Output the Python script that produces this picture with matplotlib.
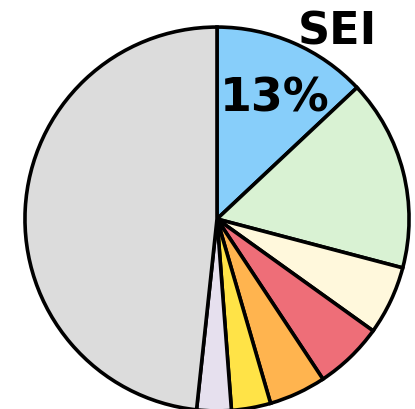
import matplotlib
matplotlib.use("Agg")
import matplotlib.pyplot as plt

# slice shares in percent, clockwise from 12 o'clock
labels = ['SEI', 'B', 'C', 'D', 'E', 'F', 'G', 'H']
shares = [13.0, 16.1, 5.8, 5.8, 4.8, 3.3, 2.9, 48.3]
colors = ['#87cefa', '#d9f2d3', '#fff8dc', '#ee6e78', '#ffb44f',
          '#ffe347', '#e6e0ee', '#dcdcdc']

fig = plt.figure(figsize=(4.15, 4.09), dpi=100)
ax = fig.add_axes([0, 0, 1, 1])
ax.pie(shares, colors=colors, startangle=90, counterclock=False,
       wedgeprops=dict(edgecolor='black', linewidth=2.6))
ax.set_aspect('auto')
ax.set_xlim(-1.130, 1.031)
ax.set_ylim(-0.990, 1.141)
ax.axis('off')

ax.text(0.625, 0.975, labels[0], ha='center', va='center',
        fontsize=32, fontweight='bold', family='DejaVu Sans')
ax.text(0.302, 0.625, f"{shares[0]:.0f}%", ha='center', va='center',
        fontsize=33, fontweight='bold', family='DejaVu Sans')

fig.savefig('out.png', dpi=100)
